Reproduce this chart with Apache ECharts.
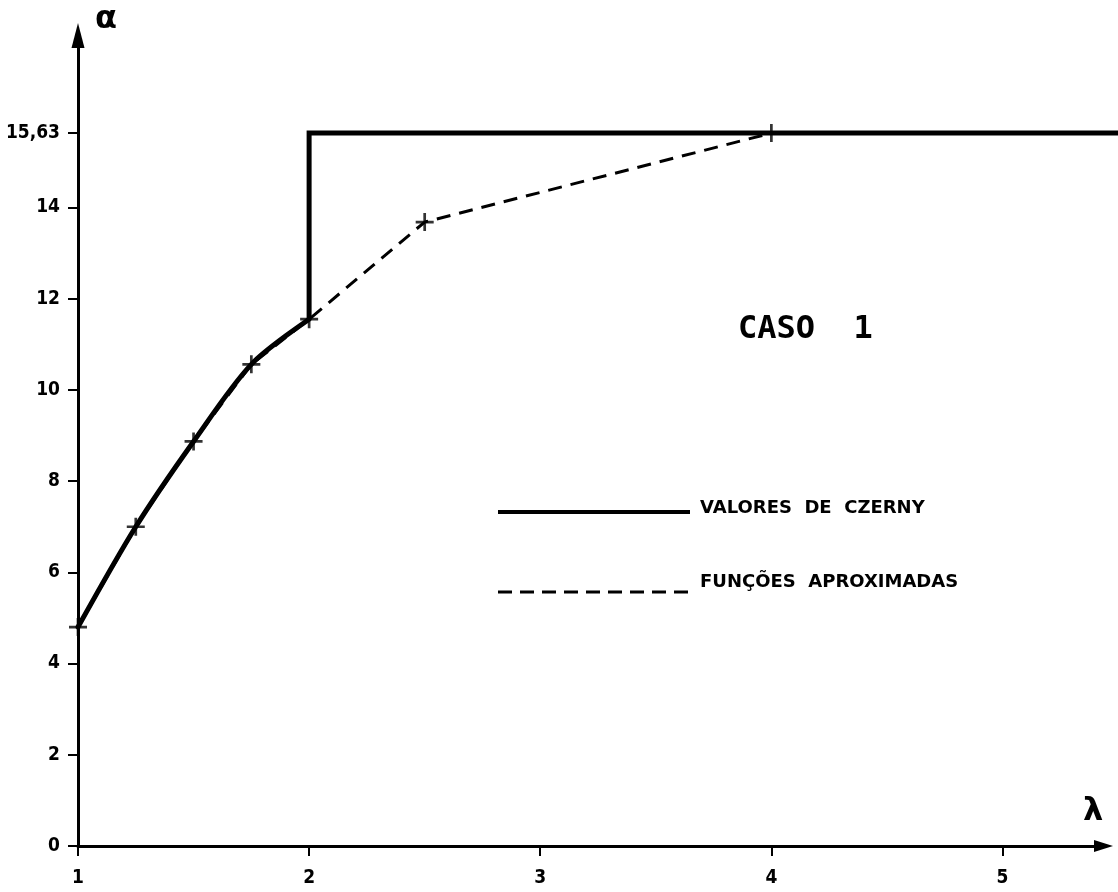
<!DOCTYPE html>
<html>
<head>
<meta charset="utf-8">
<title>Caso 1</title>
<script src="https://cdn.jsdelivr.net/npm/echarts@6/dist/echarts.min.js"></script>
<style>
  html, body { margin: 0; padding: 0; background: #fff; }
  #chart { width: 1118px; height: 892px; }
</style>
</head>
<body>
<div id="chart"></div>
<script>
// Axis ticks and their labels
const lambdaTicks = [1, 2, 3, 4, 5];
const lambdaTickLabels = ['1', '2', '3', '4', '5'];
const alphaTicks = [0, 2, 4, 6, 8, 10, 12, 14, 15.63];
const alphaTickLabels = ['0', '2', '4', '6', '8', '10', '12', '14', '15,63'];

// Czerny values: rising curve, then jump and plateau at 15.63
const czernyLambda = [1, 1.25, 1.5, 1.75, 2];
const czernyAlpha = [4.8, 7.0, 8.87, 10.56, 11.55];
const plateauLambda = [2, 2, 5.5];
const plateauAlpha = [11.55, 15.63, 15.63];

// Approximating functions (marked with crosses)
const approxLambda = [1, 1.25, 1.5, 1.75, 2, 2.5, 4];
const approxAlpha = [4.8, 7.0, 8.87, 10.56, 11.55, 13.68, 15.63];

const INK = '#000';
const zip = (xs, ys) => xs.map((x, i) => [x, ys[i]]);
const tickFont = '"DejaVu Sans Condensed", "DejaVu Sans", sans-serif';
const crossPath = 'path://M0,4.25H10V5.75H0Z M4.25,0H5.75V10H4.25Z';

// Visible plot area (the x axis stops short of the right edge for its arrow)
const LAMBDA_MAX = 5.437;
const ALPHA_MAX = 17.77;
// The plateau runs on to the page edge: an overlay grid with the same scale
const PLATEAU_LAMBDA_MAX = 5.5;

const chart = echarts.init(document.getElementById('chart'), null, { renderer: 'canvas' });

chart.setOption({
  backgroundColor: '#fff',
  animation: false,
  grid: [
    { left: 78, right: 14.5, top: 35.5, bottom: 46 },
    { left: 78, right: 0, top: 35.5, bottom: 46 }
  ],
  xAxis: [
    {
      type: 'value',
      gridIndex: 0,
      min: 1,
      max: LAMBDA_MAX,
      splitLine: { show: false },
      axisLine: {
        show: true,
        symbol: ['none', 'triangle'],
        symbolSize: [12, 19],
        lineStyle: { color: INK, width: 3 }
      },
      axisTick: {
        show: true,
        customValues: lambdaTicks,
        length: 10,
        lineStyle: { color: INK, width: 2 }
      },
      axisLabel: {
        customValues: lambdaTicks,
        margin: 23,
        color: INK,
        fontFamily: tickFont,
        fontWeight: 'bold',
        fontSize: 19,
        formatter: v => lambdaTickLabels[lambdaTicks.indexOf(v)] ?? ''
      }
    },
    {
      type: 'value',
      gridIndex: 1,
      min: 1,
      max: PLATEAU_LAMBDA_MAX,
      show: false
    }
  ],
  yAxis: [
    {
      type: 'value',
      gridIndex: 0,
      min: 0,
      max: ALPHA_MAX,
      splitLine: { show: false },
      axisLine: {
        show: true,
        onZero: false,
        symbol: ['none', 'triangle'],
        symbolSize: [13, 25],
        lineStyle: { color: INK, width: 3 }
      },
      axisTick: {
        show: true,
        customValues: alphaTicks,
        length: 10,
        lineStyle: { color: INK, width: 2 }
      },
      axisLabel: {
        customValues: alphaTicks,
        margin: 18,
        color: INK,
        fontFamily: tickFont,
        fontWeight: 'bold',
        fontSize: 19,
        formatter: v => alphaTickLabels[alphaTicks.indexOf(v)] ?? ''
      }
    },
    {
      type: 'value',
      gridIndex: 1,
      min: 0,
      max: ALPHA_MAX,
      show: false
    }
  ],
  series: [
    {
      name: 'FUNÇÕES APROXIMADAS',
      type: 'line',
      data: zip(approxLambda, approxAlpha),
      symbol: 'none',
      lineStyle: { color: INK, width: 3, type: [14, 9] }
    },
    {
      name: 'VALORES DE CZERNY',
      type: 'line',
      data: zip(czernyLambda, czernyAlpha),
      smooth: 0.3,
      symbol: 'none',
      lineStyle: { color: INK, width: 5, cap: 'round' }
    },
    {
      name: 'VALORES DE CZERNY',
      type: 'line',
      xAxisIndex: 1,
      yAxisIndex: 1,
      data: zip(plateauLambda, plateauAlpha),
      symbol: 'none',
      lineStyle: { color: INK, width: 5, join: 'miter' }
    },
    {
      name: 'FUNÇÕES APROXIMADAS',
      type: 'scatter',
      data: zip(approxLambda, approxAlpha),
      symbol: crossPath,
      symbolSize: 18,
      itemStyle: { color: INK }
    }
  ],
  graphic: [
    { type: 'text', x: 106, y: 20, style: { text: 'α', font: 'bold 32px DejaVu Sans', fill: INK, align: 'center', verticalAlign: 'middle' } },
    { type: 'text', x: 1093, y: 812, style: { text: 'λ', font: 'bold 32px DejaVu Sans', fill: INK, align: 'center', verticalAlign: 'middle' } },
    { type: 'text', x: 738, y: 330, style: { text: 'CASO  1', font: 'bold 32px DejaVu Sans Mono', fill: INK, align: 'left', verticalAlign: 'middle' } },
    { type: 'line', shape: { x1: 498, y1: 512, x2: 690, y2: 512 }, style: { stroke: INK, lineWidth: 4 } },
    { type: 'text', x: 700, y: 508, style: { text: 'VALORES  DE  CZERNY', font: 'bold 18px DejaVu Sans', fill: INK, align: 'left', verticalAlign: 'middle' } },
    { type: 'line', shape: { x1: 498, y1: 592, x2: 690, y2: 592 }, style: { stroke: INK, lineWidth: 3, lineDash: [14, 8] } },
    { type: 'text', x: 700, y: 582, style: { text: 'FUNÇÕES  APROXIMADAS', font: 'bold 18px DejaVu Sans', fill: INK, align: 'left', verticalAlign: 'middle' } }
  ]
});
</script>
</body>
</html>
